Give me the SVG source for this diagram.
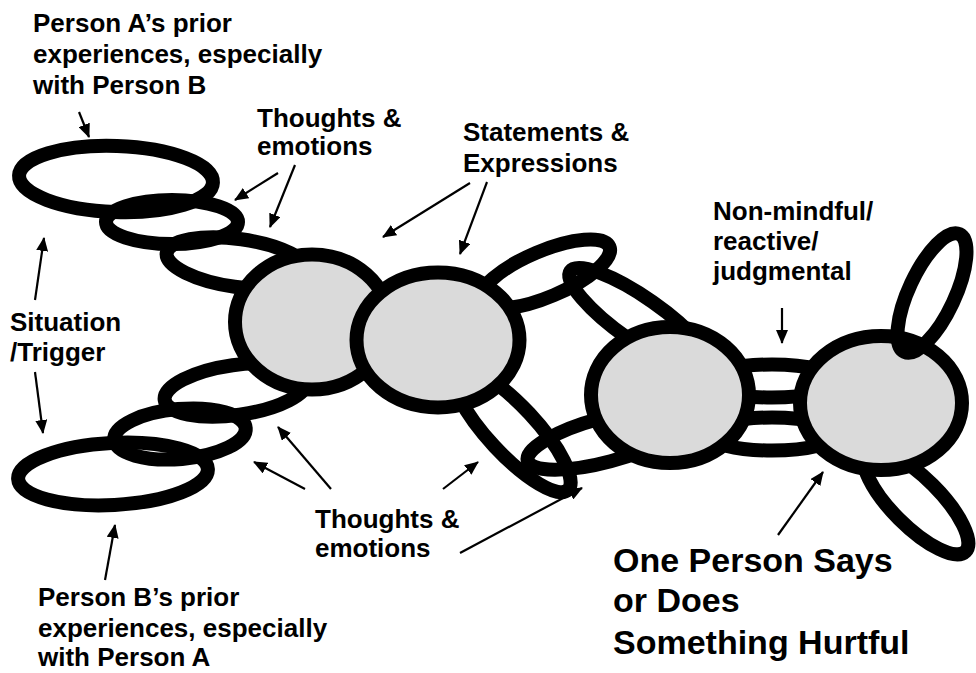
<svg xmlns="http://www.w3.org/2000/svg" width="976" height="673" viewBox="0 0 976 673">
  <style>
    .ring { fill: none; stroke: #000; stroke-width: 14; }
    .core { fill: #dadada; stroke: #000; stroke-width: 14; }
    .lbl { font-family: "Liberation Sans", Arial, sans-serif; font-weight: bold; font-size: 26px; fill: #000; }
    .big { font-family: "Liberation Sans", Arial, sans-serif; font-weight: bold; font-size: 34px; fill: #000; }
    .arr { stroke: #000; stroke-width: 2.2; fill: none; marker-end: url(#head); }
  </style>
  <defs>
    <marker id="head" viewBox="0 0 14 12" refX="13" refY="6" markerWidth="14" markerHeight="12" markerUnits="userSpaceOnUse" orient="auto">
      <path d="M0,0 L14,6 L0,12 z" fill="#000"/>
    </marker>
  </defs>
  <rect width="976" height="673" fill="#fff"/>

  <!-- upper chain: Person A side -->
  <g id="a-prior"><ellipse class="ring" cx="116" cy="179" rx="97" ry="33" transform="rotate(2 116 179)"/></g>
  <g id="a-thought1"><ellipse class="ring" cx="172" cy="222" rx="66" ry="22"/></g>
  <g id="a-thought2"><ellipse class="ring" cx="238" cy="263" rx="72" ry="24" transform="rotate(8 238 263)"/></g>

  <!-- lower chain: Person B side -->
  <g id="b-prior"><ellipse class="ring" cx="113" cy="474" rx="95" ry="31" transform="rotate(-3 113 474)"/></g>
  <g id="b-thought1"><ellipse class="ring" cx="180" cy="434" rx="66" ry="25" transform="rotate(-5 180 434)"/></g>
  <g id="b-thought2"><ellipse class="ring" cx="236" cy="390" rx="72" ry="25" transform="rotate(-8 236 390)"/></g>

  <!-- links between the middle cores -->
  <g id="link-up1"><ellipse class="ring" cx="545" cy="274" rx="70" ry="23" transform="rotate(-23 545 274)"/></g>
  <g id="link-up2"><ellipse class="ring" cx="640" cy="320" rx="85" ry="22" transform="rotate(35 640 320)"/></g>
  <g id="link-low1"><ellipse class="ring" cx="512" cy="430" rx="82" ry="24" transform="rotate(47 512 430)"/></g>
  <g id="link-low2"><ellipse class="ring" cx="605" cy="440" rx="80" ry="22" transform="rotate(-15 605 440)"/></g>
  <g id="link-mid1"><ellipse class="ring" cx="772" cy="381" rx="65" ry="16.5"/></g>
  <g id="link-mid2"><ellipse class="ring" cx="772" cy="434" rx="65" ry="16.5"/></g>
  <g id="link-end-low"><ellipse class="ring" cx="916" cy="502" rx="70" ry="24" transform="rotate(45 916 502)"/></g>

  <!-- grey cores -->
  <g id="core-1"><ellipse class="core" cx="312" cy="322" rx="77" ry="67.5"/></g>
  <g id="core-2"><ellipse class="core" cx="438" cy="340" rx="81.5" ry="67.5"/></g>
  <g id="core-3"><ellipse class="core" cx="670" cy="395" rx="79" ry="68"/></g>
  <g id="core-4"><ellipse class="core" cx="881" cy="403" rx="81" ry="67"/></g>

  <g id="link-end-up"><ellipse class="ring" cx="932" cy="293" rx="65" ry="23" transform="rotate(-65 932 293)"/></g>

  <!-- pointer arrows -->
  <g id="connectors">
    <line class="arr" x1="79" y1="112" x2="89" y2="137"/>
    <line class="arr" x1="278" y1="173" x2="235" y2="200"/>
    <line class="arr" x1="295" y1="165" x2="270" y2="227"/>
    <line class="arr" x1="470" y1="183" x2="383" y2="237"/>
    <line class="arr" x1="487" y1="182" x2="460" y2="254"/>
    <line class="arr" x1="35" y1="300" x2="44" y2="238"/>
    <line class="arr" x1="35" y1="372" x2="43" y2="433"/>
    <line class="arr" x1="305" y1="489" x2="254" y2="462"/>
    <line class="arr" x1="331" y1="489" x2="278" y2="427"/>
    <line class="arr" x1="443" y1="489" x2="478" y2="462"/>
    <line class="arr" x1="460" y1="553" x2="582" y2="488"/>
    <line class="arr" x1="782" y1="308" x2="782" y2="343"/>
    <line class="arr" x1="778" y1="535" x2="823" y2="472"/>
    <line class="arr" x1="105" y1="580" x2="115" y2="525"/>
  </g>

  <!-- labels -->
  <g id="label-a-prior" class="lbl">
    <text x="33" y="32">Person A’s prior</text>
    <text x="33" y="63">experiences, especially</text>
    <text x="33" y="94">with Person B</text>
  </g>
  <g id="label-thoughts-top" class="lbl">
    <text x="257" y="127">Thoughts &amp;</text>
    <text x="257" y="155">emotions</text>
  </g>
  <g id="label-statements" class="lbl">
    <text x="463" y="141">Statements &amp;</text>
    <text x="463" y="172">Expressions</text>
  </g>
  <g id="label-nonmindful" class="lbl">
    <text x="713" y="220">Non-mindful/</text>
    <text x="713" y="250">reactive/</text>
    <text x="713" y="280">judgmental</text>
  </g>
  <g id="label-situation" class="lbl">
    <text x="10" y="331">Situation</text>
    <text x="10" y="361">/Trigger</text>
  </g>
  <g id="label-thoughts-bottom" class="lbl">
    <text x="315" y="528">Thoughts &amp;</text>
    <text x="315" y="557">emotions</text>
  </g>
  <g id="label-b-prior" class="lbl">
    <text x="38" y="606">Person B’s prior</text>
    <text x="38" y="637">experiences, especially</text>
    <text x="38" y="666">with Person A</text>
  </g>
  <g id="label-hurtful" class="big">
    <text x="613" y="572">One Person Says</text>
    <text x="613" y="612">or Does</text>
    <text x="613" y="654">Something Hurtful</text>
  </g>
</svg>
